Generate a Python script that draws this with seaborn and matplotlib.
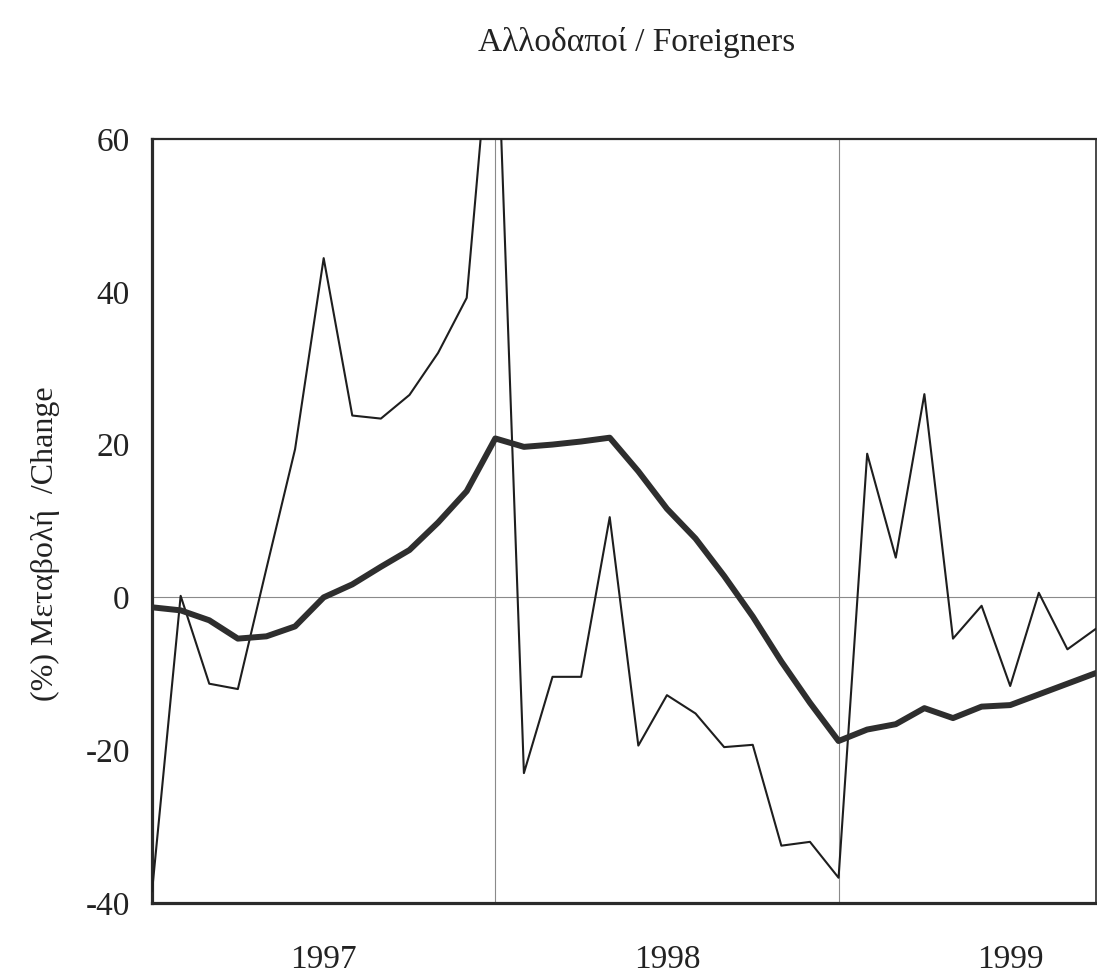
import numpy as np
import pandas as pd
import matplotlib
matplotlib.use("Agg")
import matplotlib.pyplot as plt
import seaborn as sns

# Monthly % change, Jan 1997 .. Oct 1999 (index 0 = first month)
month_idx = list(range(34))
monthly_change = [-38.5, 0.2, -11.3, -12.0, 3.8, 19.4, 44.4, 23.8, 23.4, 26.5,
                  32.0, 39.2, 82.0, -23.0, -10.4, -10.4, 10.5, -19.4, -12.8, -15.2,
                  -19.6, -19.3, -32.5, -32.0, -36.7, 18.8, 5.2, 26.6, -5.4, -1.1,
                  -11.6, 0.6, -6.8, -4.1]
trend_change = [-1.3, -1.7, -3.0, -5.4, -5.1, -3.8, 0.0, 1.7, 4.0, 6.2,
                9.8, 13.9, 20.8, 19.7, 20.0, 20.4, 20.9, 16.5, 11.6, 7.7,
                2.8, -2.5, -8.4, -13.8, -18.8, -17.3, -16.6, -14.5, -15.8, -14.3,
                -14.1, -12.7, -11.3, -9.9]

year_labels = ["1997", "1998", "1999"]
year_mid_idx = [6, 18, 30]
year_start_idx = [12, 24]
y_ticks = [60, 40, 20, 0, -20, -40]

df = pd.DataFrame({"month": month_idx, "monthly": monthly_change, "trend": trend_change})

sns.set_theme(style="white")
plt.rcParams["font.family"] = ["Liberation Serif", "DejaVu Serif"]
plt.rcParams["axes.unicode_minus"] = False

fig = plt.figure(figsize=(10.97, 9.8), dpi=100)
ax = fig.add_axes([0.1386, 0.0786, 0.8605, 0.7796])

# reference lines: year boundaries and zero
for xb in year_start_idx:
    ax.axvline(xb, color="#8a8a8a", lw=0.8, zorder=1)
ax.axhline(0, color="#8a8a8a", lw=0.8, zorder=1)

sns.lineplot(data=df, x="month", y="monthly", ax=ax, color="#1e1e1e", lw=1.5, zorder=3)
sns.lineplot(data=df, x="month", y="trend", ax=ax, color="#2e2e2e", lw=4.3, zorder=4)

ax.set_xlim(0, 33)
ax.set_ylim(-40, 60)
ax.set_yticks(y_ticks)
ax.set_yticklabels([str(v) for v in y_ticks])
ax.set_xticks(year_mid_idx)
ax.set_xticklabels(year_labels)

ax.tick_params(axis="y", direction="in", length=6, width=0.8, color="#9a9a9a",
               pad=16, labelsize=24, labelcolor="#222222")
ax.tick_params(axis="x", length=0, pad=30, labelsize=24, labelcolor="#222222")

for side, w in [("left", 2.3), ("bottom", 2.3), ("top", 1.6), ("right", 1.2)]:
    ax.spines[side].set_visible(True)
    ax.spines[side].set_color("#2a2a2a")
    ax.spines[side].set_linewidth(w)

ax.set_xlabel("")
ax.set_ylabel("(%) Μεταβολή  /Change", fontsize=23, color="#222222")
ax.yaxis.set_label_coords(-0.098, 0.47)

fig.text(0.58, 0.957, "Αλλοδαποί / Foreigners", ha="center", va="center",
         fontsize=24, color="#222222")

fig.savefig("out.png", dpi=100, facecolor="white")
